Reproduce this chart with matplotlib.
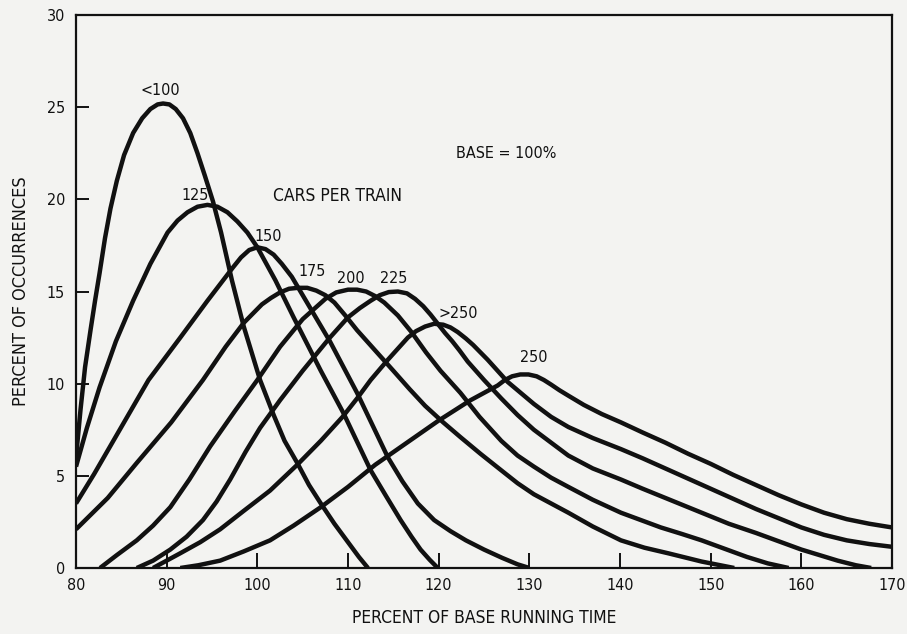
import numpy as np
import matplotlib.pyplot as plt

# running-time distributions by train length (percent of base running time)
lt100_x = [80, 80.5, 81, 81.6, 82.1, 82.6, 83.2, 83.8, 84.5, 85.3, 86.3, 87.3, 88.2, 89, 89.6, 90.3, 91, 91.8,
           92.6, 93.4, 94.2, 95.1, 96, 97.2, 98.5, 100.3, 101.8, 103, 104.4, 105.7, 107, 108.5, 110, 111.2, 112.2]
lt100_y = [6.0, 8.6, 10.9, 12.9, 14.5, 16.0, 17.9, 19.5, 21.0, 22.4, 23.6, 24.4, 24.9, 25.15, 25.2, 25.15, 24.9, 24.4,
           23.6, 22.5, 21.3, 19.9, 18.2, 15.6, 13.1, 10.2, 8.3, 6.9, 5.7, 4.5, 3.5, 2.4, 1.4, 0.6, 0]

c125_x = [80, 81.2, 82.6, 84.4, 86.3, 88.2, 90.1, 91.2, 92.3, 93.4, 94.5, 95.6, 96.7, 97.8, 98.9, 100, 102, 104,
          107, 109.5, 112.5, 114.2, 115.8, 117, 118, 119, 119.9]
c125_y = [5.5, 7.6, 9.8, 12.3, 14.5, 16.5, 18.2, 18.85, 19.3, 19.6, 19.7, 19.6, 19.3, 18.8, 18.2, 17.4, 15.6, 13.6,
          10.7, 8.4, 5.3, 3.9, 2.6, 1.7, 1.0, 0.45, 0]

c150_x = [80, 82, 84, 86, 88, 91.5, 94.5, 97.3, 98.2, 99.1, 100, 100.9, 101.8, 102.7, 103.8, 105, 108, 111, 114.4,
          116, 117.7, 119.5, 121.3, 123, 125, 127, 128.7, 130]
c150_y = [3.5, 5.1, 6.8, 8.5, 10.2, 12.5, 14.5, 16.3, 16.85, 17.25, 17.4, 17.3, 17.0, 16.5, 15.8, 14.8, 12.3, 9.5, 6.0,
          4.7, 3.5, 2.6, 2.0, 1.5, 1.0, 0.55, 0.2, 0]

c175_x = [80, 83.5, 86.7, 90.5, 94, 96.5, 98.5, 100.5, 101.5, 102.5, 103.5, 104.5, 105.5, 106.5, 107.5, 108.5, 109.7,
          111, 113, 115, 116.8, 118.5, 120.5, 122.4, 124.6, 126.9, 128.7, 130.5, 132.4, 134.3, 137, 140.1, 142.7,
          145.3, 149, 152.6]
c175_y = [2.1, 3.8, 5.7, 7.9, 10.2, 12.0, 13.3, 14.3, 14.65, 14.95, 15.15, 15.2, 15.2, 15.05, 14.8, 14.4, 13.7,
          12.9, 11.8, 10.7, 9.7, 8.8, 7.9, 7.1, 6.2, 5.3, 4.6, 4.0, 3.5, 3.0, 2.25, 1.5, 1.1,
          0.8, 0.35, 0]

c200_x = [82.65, 84.5, 86.7, 88.5, 90.4, 92.5, 94.8, 97.5, 100, 102.5, 105, 107.5, 108.7, 110, 111, 112, 113, 114,
          115.5, 117, 118.6, 120.2, 122.4, 124.5, 126.9, 128.7, 130.5, 132.4, 134.3, 137, 140.1, 142.3, 144.5,
          146.8, 149, 151.5, 154, 156.3, 158.6]
c200_y = [0, 0.7, 1.5, 2.3, 3.3, 4.8, 6.6, 8.5, 10.2, 12.0, 13.5, 14.6, 14.95, 15.1, 15.1, 15.0, 14.75, 14.4,
          13.7, 12.8, 11.7, 10.7, 9.5, 8.2, 6.9, 6.1, 5.5, 4.9, 4.4, 3.7, 3.0, 2.6, 2.2,
          1.85, 1.5, 1.05, 0.6, 0.25, 0]

c225_x = [86.7, 88.5, 90.4, 92.2, 94, 95.5, 97, 98.7, 100.3, 102.5, 105, 108, 110, 111.3, 112.5, 113.5, 114.5, 115.5,
          116.5, 117.4, 118.3, 119.1, 119.9, 120.7, 121.5, 122.3, 123.2, 125, 126.9, 128.7, 130.5, 132.4, 134.3,
          137, 140.1, 142.5, 145, 147, 149, 152, 155, 157.5, 160, 162, 164, 166, 167.7]
c225_y = [0, 0.4, 1.0, 1.7, 2.6, 3.6, 4.8, 6.3, 7.6, 9.1, 10.7, 12.5, 13.6, 14.1, 14.5, 14.8, 14.97, 15.0,
          14.9, 14.6, 14.2, 13.75, 13.25, 12.75, 12.3, 11.8, 11.2, 10.2, 9.2, 8.3, 7.5, 6.8, 6.1,
          5.4, 4.8, 4.3, 3.8, 3.4, 3.0, 2.4, 1.9, 1.45, 1.0, 0.7, 0.4, 0.15, 0]

gt250_x = [88.5, 91.5, 93.7, 95.9, 98.5, 101.4, 104.4, 107, 109.4, 111, 112.5, 114.4, 116.6, 117.5, 118.5, 119.5,
           120.5, 121.3, 122.1, 123, 123.8, 125.4, 127.6, 130.5, 132.4, 134.3, 137, 140.1, 142.5, 145, 147.5, 150,
           152.5, 155, 157.5, 160, 162.5, 165, 167.5, 170]
gt250_y = [0, 0.8, 1.4, 2.1, 3.1, 4.2, 5.6, 6.9, 8.2, 9.2, 10.2, 11.3, 12.5, 12.85, 13.1, 13.25,
           13.2, 13.05, 12.8, 12.45, 12.1, 11.3, 10.1, 8.9, 8.2, 7.65, 7.05, 6.45, 5.95, 5.4, 4.85, 4.3,
           3.75, 3.2, 2.7, 2.2, 1.8, 1.5, 1.3, 1.15]

c250_x = [91.5, 93.5, 95.9, 98.5, 101.4, 104, 107, 110, 113, 116.5, 120, 123.5, 126.5, 127.3, 128.1, 129, 129.9,
          130.8, 131.6, 132.4, 133.3, 134.3, 136, 138, 140.1, 142.5, 145, 147.5, 150, 152.5, 155, 157.5,
          160, 162.5, 165, 167.5, 170]
c250_y = [0, 0.15, 0.4, 0.9, 1.5, 2.3, 3.3, 4.4, 5.6, 6.8, 8.0, 9.1, 9.9, 10.2, 10.4, 10.5, 10.5,
          10.4, 10.2, 9.95, 9.65, 9.35, 8.85, 8.35, 7.9, 7.35, 6.8, 6.2, 5.65, 5.05, 4.5, 3.95,
          3.45, 3.0, 2.65, 2.4, 2.2]

curves = [(lt100_x, lt100_y), (c125_x, c125_y), (c150_x, c150_y), (c175_x, c175_y),
          (c200_x, c200_y), (c225_x, c225_y), (gt250_x, gt250_y), (c250_x, c250_y)]

# curve labels and where they sit
labels = ['<100', '125', '150', '175', '200', '225', '>250', '250']
label_x = [89.3, 93.1, 101.2, 106.0, 110.3, 115.0, 122.2, 130.5]
label_y = [25.9, 20.2, 18.0, 16.1, 15.7, 15.7, 13.8, 11.4]

xticks = [80, 90, 100, 110, 120, 130, 140, 150, 160, 170]
yticks = [0, 5, 10, 15, 20, 25, 30]

ink = '#111111'
paper = '#f3f3f1'
fnt = dict(family='DejaVu Sans', stretch='condensed', color=ink)

fig = plt.figure(figsize=(9.07, 6.34), dpi=100, facecolor=paper)
ax = fig.add_axes([0.0838, 0.1041, 0.8997, 0.8722], facecolor=paper)

for cx, cy in curves:
    ax.plot(cx, cy, color=ink, lw=3.2, solid_joinstyle='round', solid_capstyle='butt', zorder=3)

for t, lx, ly in zip(labels, label_x, label_y):
    ax.text(lx, ly, t, ha='center', va='center', fontsize=11.5, **fnt)

ax.text(108.8, 20.2, 'CARS PER TRAIN', ha='center', va='center', fontsize=12.5, **fnt)
ax.text(127.4, 22.5, 'BASE = 100%', ha='center', va='center', fontsize=11.5, **fnt)

ax.set_xlim(80, 170)
ax.set_ylim(0, 30)
ax.set_xticks(xticks)
ax.set_yticks(yticks)
ax.set_xticklabels([str(v) for v in xticks], **fnt)
ax.set_yticklabels([str(v) for v in yticks], **fnt)
ax.tick_params(axis='x', direction='in', length=11, width=1.3, labelsize=11.5, pad=7)
ax.tick_params(axis='y', direction='in', length=9, width=1.3, labelsize=11.5, pad=8)
for s in ax.spines.values():
    s.set_linewidth(1.6)
    s.set_color(ink)

ax.set_xlabel('PERCENT OF BASE RUNNING TIME', fontsize=12.5, labelpad=12, **fnt)
ax.set_ylabel('PERCENT OF OCCURRENCES', fontsize=13, labelpad=12, **fnt)

fig.savefig('out.png', dpi=100, facecolor=paper)
